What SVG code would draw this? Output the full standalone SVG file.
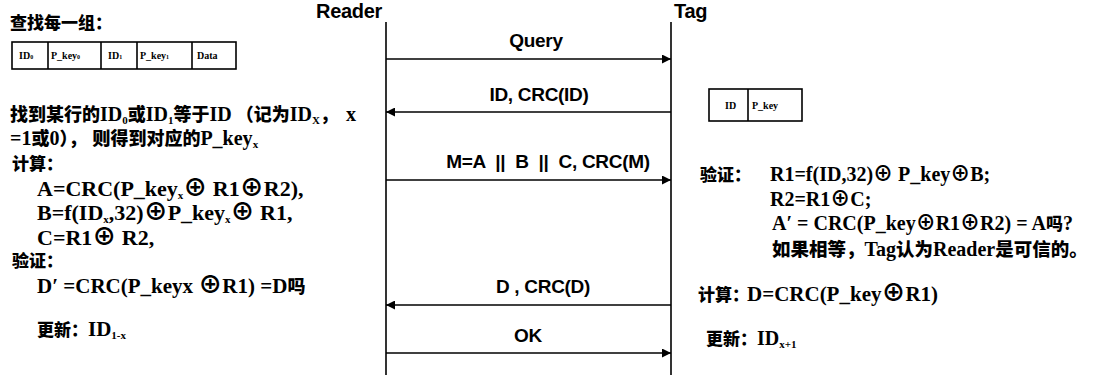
<svg xmlns="http://www.w3.org/2000/svg" width="1118" height="375" viewBox="0 0 1118 375">
<style>
.t{font-family:"Liberation Serif","Noto Sans CJK SC",serif;font-weight:bold;font-size:20px;fill:#000}
.L{font-size:22px}
.k{font-family:"Noto Sans CJK SC","Liberation Serif",sans-serif;font-size:17px;font-weight:900}
.k18{font-size:18px}
.k19{font-size:18.5px}
.x{font-size:24px}
.s{font-family:"Liberation Sans","Noto Sans CJK SC",sans-serif;font-weight:bold;font-size:19px;fill:#000;letter-spacing:-0.3px}
.c{font-family:"Liberation Serif",serif;font-weight:bold;font-size:10px;fill:#000}
.sub{font-size:11px}
.box{fill:none;stroke:#000;stroke-width:1.6}
.life{stroke:#000;stroke-width:1.6}
.msg{stroke:#000;stroke-width:1.6;fill:none}
</style>
<defs>
<marker id="ah" viewBox="0 0 10 10" refX="10" refY="5" markerWidth="11" markerHeight="9" markerUnits="userSpaceOnUse" orient="auto">
<path d="M0,0 L10,5 L0,10 z" fill="#000"/>
</marker>
</defs>
<rect width="1118" height="375" fill="#fff"/>
<g id="reader">
<text class="s" x="316" y="18" style="font-size:20px">Reader</text>
<line class="life" x1="386" y1="22" x2="386" y2="375"/>
</g>
<g id="tag">
<text class="s" x="674" y="18" style="font-size:20px">Tag</text>
<line class="life" x1="671" y1="22" x2="671" y2="375"/>
</g>
<g id="connectors">
<line class="msg" x1="386" y1="59" x2="671" y2="59" marker-end="url(#ah)"/>
<text class="s" x="536" y="47" text-anchor="middle">Query</text>
<line class="msg" x1="671" y1="112" x2="386" y2="112" marker-end="url(#ah)"/>
<text class="s" x="539" y="101" text-anchor="middle">ID, CRC(ID)</text>
<line class="msg" x1="386" y1="180" x2="671" y2="180" marker-end="url(#ah)"/>
<text class="s" x="548" y="168" text-anchor="middle" xml:space="preserve">M=A  ||  B  ||  C, CRC(M)</text>
<line class="msg" x1="671" y1="305" x2="386" y2="305" marker-end="url(#ah)"/>
<text class="s" x="543" y="293" text-anchor="middle">D , CRC(D)</text>
<line class="msg" x1="386" y1="353" x2="671" y2="353" marker-end="url(#ah)"/>
<text class="s" x="528" y="342" text-anchor="middle">OK</text>
</g>
<g id="reader-notes">
<text class="t" x="10" y="29"><tspan class="k">查找每一组：</tspan></text>
<rect class="box" x="12" y="42" width="224" height="27"/>
<line class="life" x1="48" y1="42" x2="48" y2="69"/>
<line class="life" x1="101" y1="42" x2="101" y2="69"/>
<line class="life" x1="137" y1="42" x2="137" y2="69"/>
<line class="life" x1="192" y1="42" x2="192" y2="69"/>
<text class="c" x="19" y="59">ID<tspan font-size="6">0</tspan></text>
<text class="c" x="51" y="59">P_key<tspan font-size="6">0</tspan></text>
<text class="c" x="108" y="59">ID<tspan font-size="6">1</tspan></text>
<text class="c" x="140" y="59">P_key<tspan font-size="6">1</tspan></text>
<text class="c" x="197" y="59">Data</text>
<text class="t" x="10" y="121"><tspan class="k k18">找到某行的</tspan>ID<tspan class="sub" dy="3">0</tspan><tspan class="k k18" dy="-3">或</tspan>ID<tspan class="sub" dy="3">1</tspan><tspan class="k k18" dy="-3">等于</tspan>ID<tspan class="k k18" dx="4">（记为</tspan>ID<tspan class="sub" dy="3">X</tspan><tspan class="k k18" dy="-3">，</tspan><tspan dx="8">x</tspan></text>
<text class="t" x="10" y="145">=1<tspan class="k k18">或</tspan>0<tspan class="k k18">），</tspan><tspan class="k k18" dx="6">则得到对应的</tspan>P_key<tspan class="sub" dy="3">x</tspan></text>
<text class="t" x="12" y="170"><tspan class="k">计算：</tspan></text>
<text class="t L" x="37" y="196">A=CRC(P_key<tspan class="sub" dy="3">x</tspan><tspan class="x" dy="-3">⊕</tspan> R1<tspan class="x">⊕</tspan>R2),</text>
<text class="t L" x="37" y="220">B=f(ID<tspan class="sub" dy="3">x</tspan><tspan dy="-3">,32)</tspan><tspan class="x">⊕</tspan>P_key<tspan class="sub" dy="3">x</tspan><tspan class="x" dy="-3">⊕</tspan> R1,</text>
<text class="t L" x="37" y="245">C=R1<tspan class="x">⊕</tspan> R2,</text>
<text class="t" x="12" y="267"><tspan class="k">验证：</tspan></text>
<text class="t" x="37" y="293" style="font-size:21px">D′ =CRC(P_keyx <tspan class="x">⊕</tspan>R1) =D<tspan class="k k18">吗</tspan></text>
<text class="t" x="37" y="336" style="font-size:21px"><tspan class="k">更新：</tspan>ID<tspan class="sub" dy="3">1-x</tspan></text>
</g>
<g id="tag-notes">
<rect class="box" x="709" y="89" width="93" height="32"/>
<line class="life" x1="748" y1="89" x2="748" y2="121"/>
<text class="c" x="725" y="109">ID</text>
<text class="c" x="752" y="109">P_key</text>
<text class="t" x="700" y="181"><tspan class="k">验证：</tspan></text>
<text class="t" x="770" y="181">R1=f(ID,32)⊕ P_key⊕B;</text>
<text class="t" x="770" y="206">R2=R1⊕C;</text>
<text class="t" x="772" y="230">A′ = CRC(P_key⊕R1⊕R2) = A<tspan class="k">吗</tspan>?</text>
<text class="t" x="772" y="256"><tspan class="k k19">如果相等，</tspan>Tag<tspan class="k k19">认为</tspan>Reader<tspan class="k k19">是可信的。</tspan></text>
<text class="t" x="698" y="301"><tspan class="k">计算：</tspan></text>
<text class="t" x="747" y="301" style="font-size:21px">D=CRC(P_key<tspan class="x">⊕</tspan>R1)</text>
<text class="t" x="706" y="345"><tspan class="k">更新：</tspan>ID<tspan class="sub" dy="3">x+1</tspan></text>
</g>
</svg>
